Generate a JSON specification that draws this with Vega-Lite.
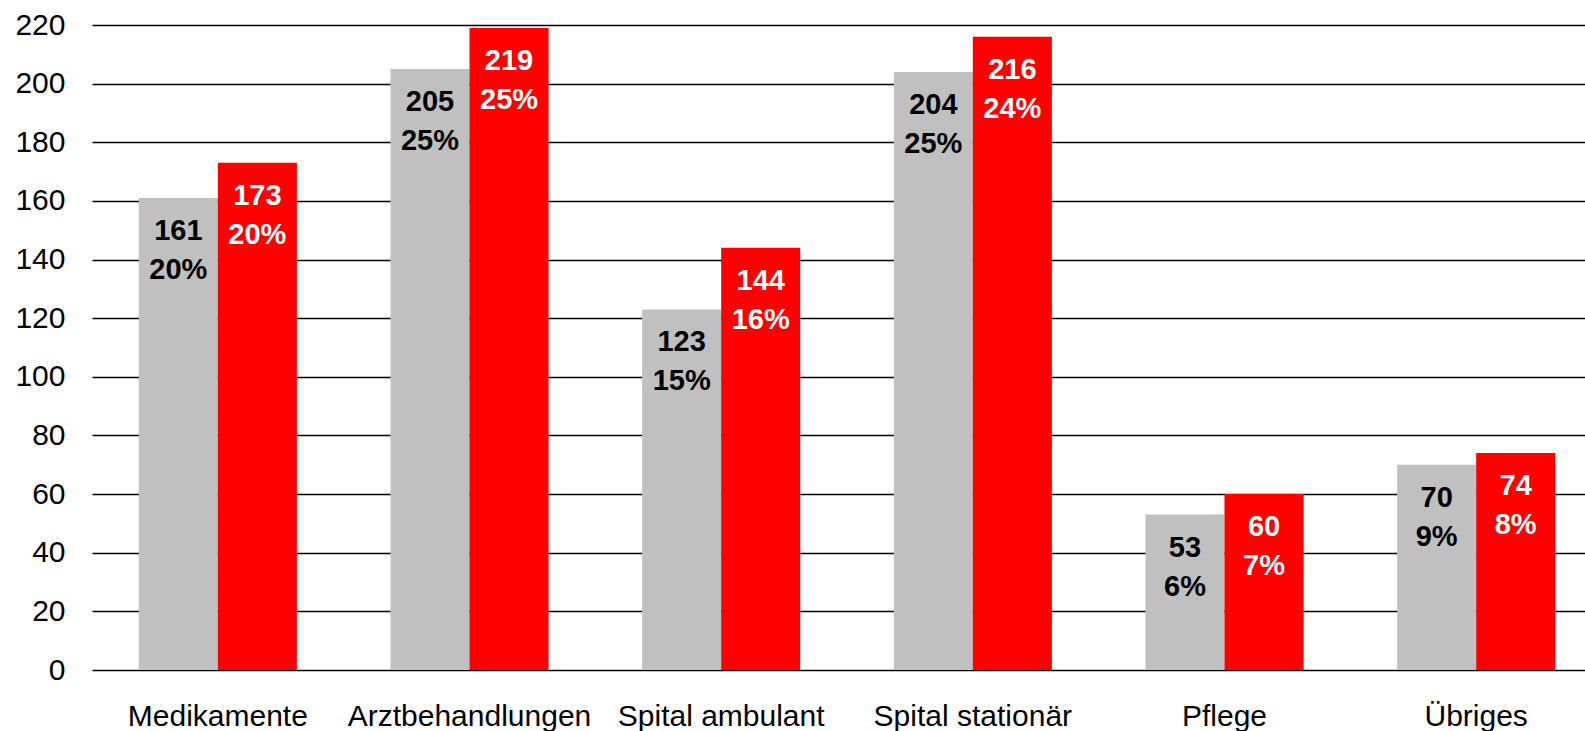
{
  "$schema": "https://vega.github.io/schema/vega-lite/v6.json",
  "autosize": "none",
  "padding": {"left": 92, "top": 25, "right": 0, "bottom": 61},
  "width": 1493,
  "height": 645,
  "background": "white",
  "config": {"view": {"stroke": null}, "font": "Liberation Sans"},
  "data": {"values": [
    {"cat": "Medikamente", "series": "A", "value": 161, "pct": "20%"},
    {"cat": "Medikamente", "series": "B", "value": 173, "pct": "20%"},
    {"cat": "Arztbehandlungen", "series": "A", "value": 205, "pct": "25%"},
    {"cat": "Arztbehandlungen", "series": "B", "value": 219, "pct": "25%"},
    {"cat": "Spital ambulant", "series": "A", "value": 123, "pct": "15%"},
    {"cat": "Spital ambulant", "series": "B", "value": 144, "pct": "16%"},
    {"cat": "Spital stationär", "series": "A", "value": 204, "pct": "25%"},
    {"cat": "Spital stationär", "series": "B", "value": 216, "pct": "24%"},
    {"cat": "Pflege", "series": "A", "value": 53, "pct": "6%"},
    {"cat": "Pflege", "series": "B", "value": 60, "pct": "7%"},
    {"cat": "Übriges", "series": "A", "value": 70, "pct": "9%"},
    {"cat": "Übriges", "series": "B", "value": 74, "pct": "8%"}
  ]},
  "encoding": {
    "x": {"field": "cat", "type": "nominal", "sort": null,
      "scale": {"paddingInner": 0, "paddingOuter": 0, "range": [0, 1510]},
      "axis": {"title": null, "domain": false, "ticks": false, "labelAngle": 0, "labelLimit": 0,
        "labelOverlap": false,
        "labelFontSize": 30, "labelColor": "black", "labelPadding": 31, "labelFont": "Liberation Sans"}},
    "xOffset": {"field": "series", "type": "nominal",
      "scale": {"paddingInner": 0, "paddingOuter": 0.592}},
    "y": {"field": "value", "type": "quantitative",
      "scale": {"domain": [0, 220], "nice": false},
      "axis": {"title": null, "values": [0,20,40,60,80,100,120,140,160,180,200,220],
        "domain": false, "ticks": false, "labelFontSize": 30, "labelColor": "black",
        "labelPadding": 27, "grid": true, "gridColor": "black", "gridWidth": 1.5,
        "labelFont": "Liberation Sans"}}
  },
  "layer": [
    {"mark": {"type": "bar"},
     "encoding": {"color": {"field": "series", "type": "nominal", "legend": null,
       "scale": {"domain": ["A", "B"], "range": ["#C0C0C0", "#FF0000"]}}}},
    {"mark": {"type": "text", "baseline": "alphabetic", "align": "center", "dy": 42,
       "fontSize": 29, "fontWeight": "bold", "font": "Liberation Sans"},
     "encoding": {"text": {"field": "value", "type": "quantitative"},
       "color": {"condition": {"test": "datum.series === 'B'", "value": "white"}, "value": "black"}}},
    {"mark": {"type": "text", "baseline": "alphabetic", "align": "center", "dy": 81,
       "fontSize": 29, "fontWeight": "bold", "font": "Liberation Sans"},
     "encoding": {"text": {"field": "pct", "type": "nominal"},
       "color": {"condition": {"test": "datum.series === 'B'", "value": "white"}, "value": "black"}}}
  ]
}
